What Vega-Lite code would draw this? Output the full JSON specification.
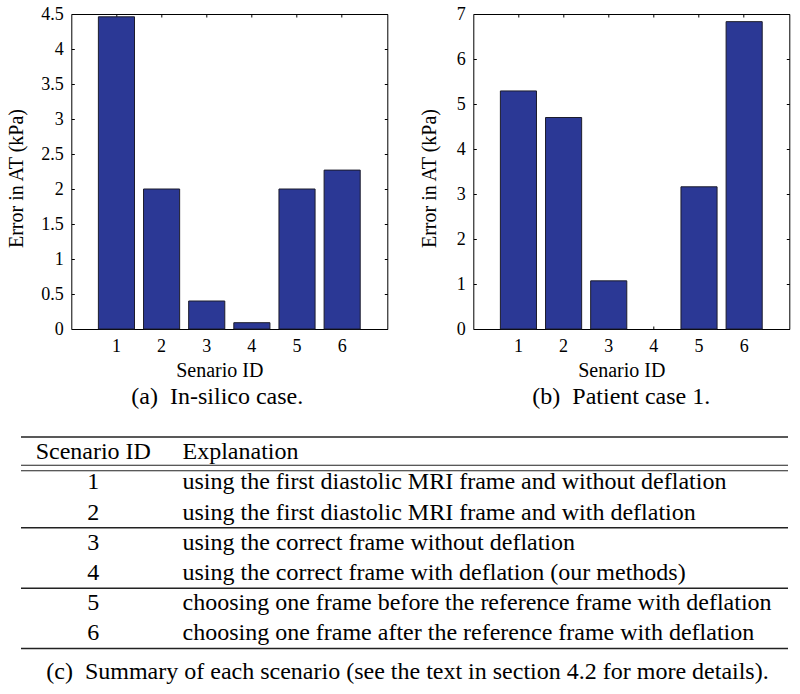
{
  "$schema": "https://vega.github.io/schema/vega-lite/v6.json",
  "padding": {"left": 6, "top": 4, "right": 0, "bottom": 0},
  "background": "white",
  "spacing": 26,
  "config": {
    "font": "Liberation Serif",
    "view": {"stroke": null},
    "axis": {"grid": false, "domain": false, "labelFont": "Liberation Serif", "titleFont": "Liberation Serif", "labelFontSize": 18, "titleFontSize": 20, "titleFontWeight": "normal", "labelColor": "#000", "titleColor": "#000", "tickColor": "#000", "tickWidth": 1},
    "title": {"font": "Liberation Serif", "fontSize": 24, "fontWeight": "normal", "color": "#000"}
  },
  "datasets": {
    "insilico": [
      {"scenario": "1", "error": 4.46},
      {"scenario": "2", "error": 2.0},
      {"scenario": "3", "error": 0.4},
      {"scenario": "4", "error": 0.09},
      {"scenario": "5", "error": 2.0},
      {"scenario": "6", "error": 2.27}
    ],
    "patient": [
      {"scenario": "1", "error": 5.29},
      {"scenario": "2", "error": 4.70},
      {"scenario": "3", "error": 1.07},
      {"scenario": "4", "error": 0},
      {"scenario": "5", "error": 3.16},
      {"scenario": "6", "error": 6.83}
    ],
    "table": [
      {"row": "H", "id": "Scenario ID", "exp": "Explanation"},
      {"row": "1", "id": "1", "exp": "using the first diastolic MRI frame and without deflation"},
      {"row": "2", "id": "2", "exp": "using the first diastolic MRI frame and with deflation"},
      {"row": "3", "id": "3", "exp": "using the correct frame without deflation"},
      {"row": "4", "id": "4", "exp": "using the correct frame with deflation (our methods)"},
      {"row": "5", "id": "5", "exp": "choosing one frame before the reference frame with deflation"},
      {"row": "6", "id": "6", "exp": "choosing one frame after the reference frame with deflation"}
    ],
    "sectionEnds": [
      {"after": "2"},
      {"after": "4"},
      {"after": "6"}
    ]
  },
  "vconcat": [
    {
      "spacing": -18.7,
      "hconcat": [
        {
          "width": 1,
          "height": 1,
          "data": {"values": [{"a": 0}]},
          "mark": {"type": "point", "opacity": 0},
          "encoding": {}
        },
        {
          "spacing": 30,
          "hconcat": [
            {
              "width": 316,
              "height": 315,
              "view": {"stroke": "#000", "strokeWidth": 1},
              "title": {"text": "(a)\u00a0 In-silico case.", "orient": "bottom", "offset": 5, "dx": -12},
              "data": {"name": "insilico"},
              "layer": [
                {
                  "mark": {"type": "bar", "fill": "#2b3895", "stroke": "#1c1c2c"},
                  "encoding": {
                    "x": {"field": "scenario", "type": "ordinal", "scale": {"paddingInner": 0.2, "paddingOuter": 0.6},
                          "axis": {"orient": "bottom", "labelAngle": 0, "tickSize": -3, "labelPadding": 11, "title": "Senario ID", "titlePadding": 5, "titleX": 148}},
                    "y": {"field": "error", "type": "quantitative", "scale": {"domain": [0, 4.5], "nice": false},
                          "axis": {"orient": "left", "values": [0, 0.5, 1, 1.5, 2, 2.5, 3, 3.5, 4, 4.5], "format": "~g", "tickSize": -3, "labelPadding": 11, "title": "Error in AT (kPa)", "titlePadding": 14, "titleY": 164}},
                    "strokeWidth": {"condition": {"test": "datum.error > 0", "value": 1}, "value": 0}
                  }
                },
                {
                  "mark": {"type": "bar", "opacity": 0},
                  "encoding": {
                    "x": {"field": "scenario", "type": "ordinal", "scale": {"paddingInner": 0.2, "paddingOuter": 0.6},
                          "axis": {"orient": "top", "labels": false, "tickSize": -3, "title": null}},
                    "y": {"field": "error", "type": "quantitative", "scale": {"domain": [0, 4.5], "nice": false},
                          "axis": {"orient": "right", "labels": false, "values": [0, 0.5, 1, 1.5, 2, 2.5, 3, 3.5, 4, 4.5], "tickSize": -3, "title": null}}
                  }
                }
              ],
              "resolve": {"axis": {"x": "independent", "y": "independent"}}
            },
            {
              "width": 316,
              "height": 315,
              "view": {"stroke": "#000", "strokeWidth": 1},
              "title": {"text": "(b)\u00a0 Patient case 1.", "orient": "bottom", "offset": 5, "dx": -10},
              "data": {"name": "patient"},
              "layer": [
                {
                  "mark": {"type": "bar", "fill": "#2b3895", "stroke": "#1c1c2c"},
                  "encoding": {
                    "x": {"field": "scenario", "type": "ordinal", "scale": {"paddingInner": 0.2, "paddingOuter": 0.6},
                          "axis": {"orient": "bottom", "labelAngle": 0, "tickSize": -3, "labelPadding": 11, "title": "Senario ID", "titlePadding": 5, "titleX": 148}},
                    "y": {"field": "error", "type": "quantitative", "scale": {"domain": [0, 7], "nice": false},
                          "axis": {"orient": "left", "values": [0, 1, 2, 3, 4, 5, 6, 7], "format": "~g", "tickSize": -3, "labelPadding": 11, "title": "Error in AT (kPa)", "titlePadding": 17, "titleY": 164}},
                    "strokeWidth": {"condition": {"test": "datum.error > 0", "value": 1}, "value": 0}
                  }
                },
                {
                  "mark": {"type": "bar", "opacity": 0},
                  "encoding": {
                    "x": {"field": "scenario", "type": "ordinal", "scale": {"paddingInner": 0.2, "paddingOuter": 0.6},
                          "axis": {"orient": "top", "labels": false, "tickSize": -3, "title": null}},
                    "y": {"field": "error", "type": "quantitative", "scale": {"domain": [0, 7], "nice": false},
                          "axis": {"orient": "right", "labels": false, "values": [0, 1, 2, 3, 4, 5, 6, 7], "tickSize": -3, "title": null}}
                  }
                }
              ],
              "resolve": {"axis": {"x": "independent", "y": "independent"}}
            }
          ]
        }
      ]
    },
    {
      "width": 767,
      "height": 211.6,
      "title": {"text": "(c)\u00a0 Summary of each scenario (see the text in section 4.2 for more details).", "orient": "bottom", "offset": 11, "dx": 3},
      "layer": [
        {
          "data": {"name": "table"},
          "mark": {"type": "text", "align": "center", "baseline": "middle", "fontSize": 24, "color": "#000", "font": "Liberation Serif"},
          "encoding": {
            "x": {"datum": "ID", "scale": {"type": "point", "domain": ["ID", "Explanation"], "range": [72.3, 161.5], "padding": 0}, "axis": null},
            "y": {"field": "row", "type": "ordinal", "scale": {"type": "band", "domain": ["H", "1", "2", "3", "4", "5", "6"], "paddingInner": 0, "paddingOuter": 0}, "axis": null},
            "text": {"field": "id"}
          }
        },
        {
          "data": {"name": "table"},
          "mark": {"type": "text", "align": "left", "baseline": "middle", "fontSize": 24, "color": "#000", "font": "Liberation Serif"},
          "encoding": {
            "x": {"datum": "Explanation", "axis": null},
            "y": {"field": "row", "type": "ordinal"},
            "text": {"field": "exp"}
          }
        },
        {
          "data": {"values": [{"before": "H"}]},
          "mark": {"type": "rule", "color": "#222", "strokeWidth": 1.5},
          "encoding": {"y": {"field": "before", "type": "ordinal", "bandPosition": 0}}
        },
        {
          "data": {"values": [{"after": "H"}]},
          "mark": {"type": "rule", "color": "#222", "strokeWidth": 1.2, "yOffset": -2},
          "encoding": {"y": {"field": "after", "type": "ordinal", "bandPosition": 1}}
        },
        {
          "data": {"values": [{"after": "H"}]},
          "mark": {"type": "rule", "color": "#222", "strokeWidth": 1.2, "yOffset": 3.5},
          "encoding": {"y": {"field": "after", "type": "ordinal", "bandPosition": 1}}
        },
        {
          "data": {"name": "sectionEnds"},
          "mark": {"type": "rule", "color": "#222", "strokeWidth": 1.5},
          "encoding": {"y": {"field": "after", "type": "ordinal", "bandPosition": 1}}
        }
      ]
    }
  ]
}
